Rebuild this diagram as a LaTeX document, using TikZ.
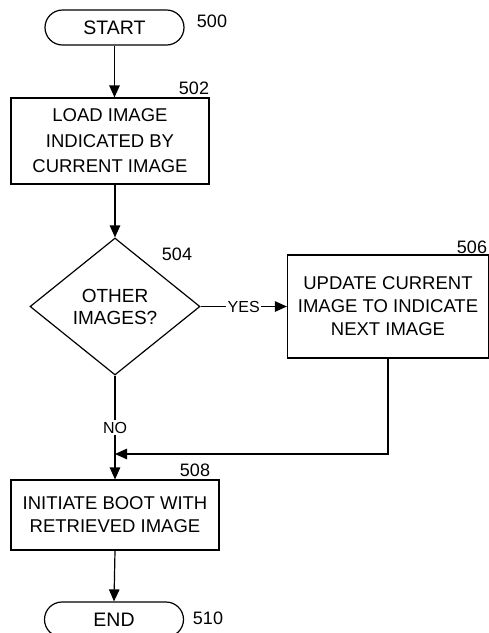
\documentclass[tikz,border=0pt]{standalone}
\usepackage{fontspec}
\setmainfont{Liberation Sans}
\usetikzlibrary{arrows.meta,shapes.geometric}
\tikzset{
  stepbox/.style={draw,line width=1.2pt,align=center,inner sep=0pt,
                  font=\fontsize{18.5}{23}\selectfont},
  term/.style={draw,line width=1.2pt,rounded corners=17.5pt,minimum width=139pt,
               minimum height=35pt,inner sep=0pt,font=\fontsize{19.5}{22}\selectfont},
  test/.style={draw,diamond,aspect=1.24,line width=1.2pt,minimum width=170pt,
               minimum height=137pt,inner sep=0pt,align=center,
               font=\fontsize{19}{22}\selectfont},
  refnum/.style={inner sep=0pt,font=\fontsize{18}{20}\selectfont},
  branch/.style={fill=white,inner sep=1.5pt,font=\fontsize{16}{18}\selectfont},
  flow/.style={-{Triangle[length=12pt,width=10.5pt]},line width=1.2pt},
}
\begin{document}
\begin{tikzpicture}[x=1pt,y=-1pt]
  \useasboundingbox(0,0)rectangle(489,633);
  \node[term](start)at(114.5,27.5){START};
  \node[refnum](n500)at(212,21){500};
  \node[stepbox,minimum width=198pt,minimum height=86pt,
        font=\fontsize{18.5}{25.5}\selectfont](load)at(110,141)
    {LOAD IMAGE\\INDICATED BY\\CURRENT IMAGE};
  \node[refnum](n502)at(194,88){502};
  \node[test](other)at(115,306.5){OTHER\\IMAGES?};
  \node[refnum](n504)at(177,254){504};
  \node[stepbox,minimum width=201pt,minimum height=103pt](upd)at(388,306.5)
    {UPDATE CURRENT\\IMAGE TO INDICATE\\NEXT IMAGE};
  \node[refnum](n506)at(472,247){506};
  \node[stepbox,minimum width=208pt,minimum height=70pt](boot)at(115,515)
    {INITIATE BOOT WITH\\RETRIEVED IMAGE};
  \node[refnum](n508)at(195,470){508};
  \node[term](finish)at(114,619.5){END};
  \node[refnum](n510)at(208,618){510};
  \coordinate(join)at(115,454);
  \draw[flow](start.south)--(start.south|-load.north);
  \draw[flow](load.south-|other.north)--(other.north);
  \draw[flow](other.east)--node[branch]{YES}(upd.west);
  \draw[flow](other.south)--node[branch]{NO}(boot.north);
  \draw[flow](upd.south)|-(join);
  \draw[flow](boot.south)--(finish.north);
\end{tikzpicture}
\end{document}
